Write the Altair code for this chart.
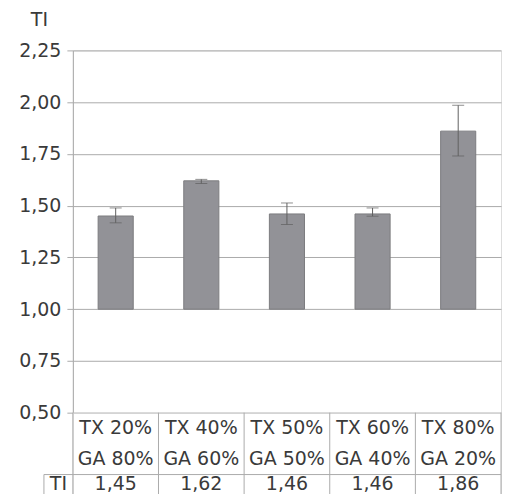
import altair as alt
import pandas as pd

cat_ids = ["c1", "c2", "c3", "c4", "c5"]
tx_labels = ["TX 20%", "TX 40%", "TX 50%", "TX 60%", "TX 80%"]
ga_labels = ["GA 80%", "GA 60%", "GA 50%", "GA 40%", "GA 20%"]
ti_values = [1.45, 1.62, 1.46, 1.46, 1.86]
err_lo = [1.417, 1.607, 1.409, 1.449, 1.740]
err_hi = [1.489, 1.627, 1.513, 1.489, 1.985]
y_ticks = [0.5, 0.75, 1.0, 1.25, 1.5, 1.75, 2.0, 2.25]
row_ids = ["TX", "GA", "TI"]

FONT = "DejaVu Sans"
FS = 19
TXT = "#3a3a3a"
GRID = "#ababab"
W, H_MAIN, H_TAB = 429, 363, 93

df = pd.DataFrame({"cat": cat_ids, "ti": ti_values, "lo": err_lo, "hi": err_hi})

xs = alt.Scale(domain=cat_ids, paddingInner=0.59, paddingOuter=0.295)
ys = alt.Scale(domain=[0.5, 2.25], nice=False, zero=False)

base = alt.Chart(df).encode(x=alt.X("cat:N", scale=xs, axis=None))

bars = base.mark_bar(color="#929297", stroke="#7c7c80", strokeWidth=1).encode(
    y=alt.Y("ti:Q", scale=ys, axis=alt.Axis(
        values=y_ticks, labelExpr="replace(format(datum.value, '.2f'), '.', ',')",
        grid=True, gridColor=GRID, domainColor=GRID, tickColor=GRID, tickSize=6,
        labelPadding=6, labelFont=FONT, labelFontSize=FS, labelColor=TXT,
        title="TI", titleAngle=0, titleX=-34, titleY=-25, titleAlign="center",
        titleBaseline="alphabetic", titleFont=FONT, titleFontSize=FS,
        titleFontWeight="normal", titleColor=TXT)),
    y2=alt.datum(1.0),
)
err = base.mark_rule(color="#606060", strokeWidth=1).encode(y="lo:Q", y2="hi:Q")
cap_lo = base.mark_tick(color="#606060", size=12, thickness=1, orient="horizontal").encode(y="lo:Q")
cap_hi = base.mark_tick(color="#606060", size=12, thickness=1, orient="horizontal").encode(y="hi:Q")

main = alt.layer(bars, err, cap_lo, cap_hi).properties(width=W, height=H_MAIN)

rows = []
for c, t, g, v in zip(cat_ids, tx_labels, ga_labels, ti_values):
    rows.append({"cat": c, "row": "TX", "txt": t})
    rows.append({"cat": c, "row": "GA", "txt": g})
    rows.append({"cat": c, "row": "TI", "txt": f"{v:.2f}".replace(".", ",")})
tdf = pd.DataFrame(rows)

txs = alt.Scale(domain=cat_ids, paddingInner=0, paddingOuter=0)
tys = alt.Scale(domain=row_ids, paddingInner=0, paddingOuter=0)

table_text = alt.Chart(tdf).transform_filter("datum.row != 'TI'").mark_text(
    font=FONT, fontSize=FS, color=TXT).encode(
    x=alt.X("cat:N", scale=txs, axis=None),
    y=alt.Y("row:N", scale=tys, axis=None),
    text="txt:N",
)
ti_text = alt.Chart(tdf).transform_filter("datum.row == 'TI'").mark_text(
    font=FONT, fontSize=FS, color=TXT, dy=-6).encode(
    x=alt.X("cat:N", scale=txs, axis=None),
    y=alt.Y("row:N", scale=tys, axis=None),
    text="txt:N",
)

cat_df = pd.DataFrame({"cat": cat_ids})
vlines = alt.Chart(cat_df).mark_rule(color=GRID, strokeWidth=1).encode(
    x=alt.X("cat:N", scale=txs, bandPosition=0, axis=None))
right_line = alt.Chart(pd.DataFrame({"cat": [cat_ids[-1]]})).mark_rule(
    color=GRID, strokeWidth=1).encode(
    x=alt.X("cat:N", scale=txs, bandPosition=1, axis=None))

ti_df = pd.DataFrame({"row": ["TI"], "txt": ["TI"]})
hline = alt.Chart(ti_df).mark_rule(color=GRID, strokeWidth=1, clip=False).encode(
    y=alt.Y("row:N", scale=tys, bandPosition=0, axis=None),
    x=alt.value(-29), x2=alt.value(W))
ti_left = alt.Chart(ti_df).mark_rule(color=GRID, strokeWidth=1, clip=False).encode(
    y=alt.Y("row:N", scale=tys, bandPosition=0, axis=None),
    x=alt.value(-29), y2=alt.value(H_TAB))
ti_head = alt.Chart(ti_df).mark_text(font=FONT, fontSize=FS, color=TXT, clip=False, dy=-6).encode(
    y=alt.Y("row:N", scale=tys, axis=None), x=alt.value(-14.5), text="txt:N")

table = alt.layer(vlines, right_line, hline, ti_left, table_text, ti_text, ti_head).properties(
    width=W, height=H_TAB)

chart = alt.vconcat(main, table, spacing=0, bounds="flush").properties(
    padding={"left": 10, "top": 1, "right": 0, "bottom": -13}
).configure_view(stroke=GRID, strokeWidth=1).configure(background="white")

chart.save("out.html", embed_options={"renderer": "svg", "actions": False})
